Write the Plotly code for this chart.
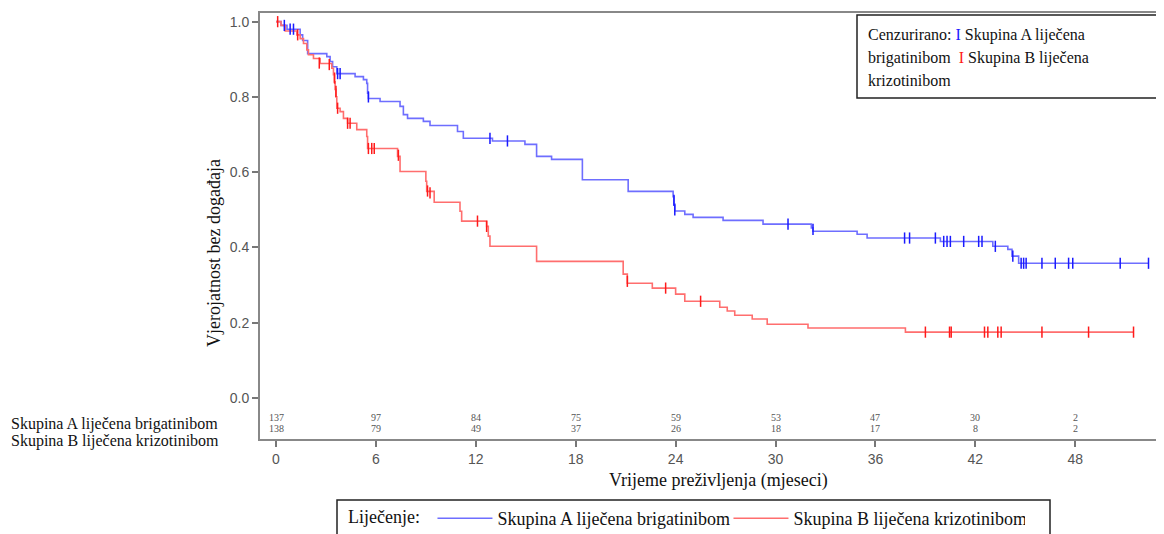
import plotly.graph_objects as go

# ---------------- data ----------------
# Kaplan-Meier step points (time in months, survival after step)
a_time = [0, 0.3, 0.66, 1.45, 1.6, 1.9, 3.05, 3.25, 3.4, 3.65, 4.75, 5.25, 5.45, 5.5, 5.55,
          6.25, 7.45, 7.65, 7.9, 8.85, 9.25, 10.9, 11.25, 13.0, 14.95, 15.65, 16.55, 18.4,
          21.15, 23.85, 23.9, 23.95, 24.55, 25.05, 26.85, 29.25, 32.15, 32.25, 34.9, 35.5,
          39.9, 43.05, 43.95, 44.2, 44.6, 52.4]
a_surv = [1.0, 0.99, 0.98, 0.965, 0.95, 0.915, 0.907, 0.894, 0.88, 0.862, 0.854, 0.846, 0.836, 0.81, 0.796,
          0.788, 0.775, 0.753, 0.743, 0.735, 0.724, 0.708, 0.69, 0.683, 0.674, 0.642, 0.634, 0.58,
          0.549, 0.535, 0.515, 0.497, 0.488, 0.48, 0.472, 0.462, 0.452, 0.443, 0.435, 0.425,
          0.416, 0.403, 0.395, 0.377, 0.358, 0.358]

b_time = [0, 0.3, 0.55, 1.25, 1.45, 1.65, 1.85, 1.95, 2.25, 2.65, 3.35, 3.45, 3.5, 3.55, 3.6,
          3.65, 3.85, 4.05, 4.3, 4.85, 5.45, 5.5, 7.3, 7.45, 9.0, 9.05, 9.5, 11.05, 11.15,
          12.65, 12.75, 12.85, 15.65, 20.85, 21.1, 22.6, 24.0, 24.55, 26.65, 27.1, 27.55,
          28.6, 29.5, 31.95, 37.8, 51.5]
b_surv = [1.0, 0.99, 0.975, 0.965, 0.955, 0.942, 0.925, 0.912, 0.902, 0.889, 0.876, 0.859, 0.84, 0.82, 0.80,
          0.77, 0.761, 0.743, 0.73, 0.713, 0.695, 0.663, 0.642, 0.602, 0.576, 0.549, 0.52, 0.496, 0.47,
          0.456, 0.43, 0.403, 0.363, 0.329, 0.305, 0.292, 0.276, 0.257, 0.241, 0.231, 0.22,
          0.21, 0.196, 0.186, 0.175, 0.175]

# censored observations
a_cens_t = [0.5, 0.85, 1.05, 3.7, 3.85, 5.55, 12.85, 13.9, 23.9, 23.95, 30.75, 32.25,
            37.75, 38.05, 39.6, 40.1, 40.3, 40.5, 41.3, 42.2, 42.4, 43.2, 44.25, 44.75,
            44.9, 45.05, 46.0, 46.8, 47.6, 47.85, 50.7, 52.4]
a_cens_s = [0.99, 0.98, 0.98, 0.862, 0.862, 0.80, 0.69, 0.683, 0.525, 0.50, 0.462, 0.448,
            0.425, 0.425, 0.425, 0.416, 0.416, 0.416, 0.416, 0.416, 0.416, 0.403, 0.377, 0.358,
            0.358, 0.358, 0.358, 0.358, 0.358, 0.358, 0.358, 0.358]
b_cens_t = [0.1, 1.3, 2.6, 3.2, 3.52, 3.6, 3.7, 4.3, 4.45, 5.55, 5.75, 5.9, 7.35, 9.1, 9.25,
            12.1, 12.65, 21.1, 23.4, 25.5, 39.0, 40.45, 40.55, 42.55, 42.75, 43.35, 43.55,
            46.0, 48.8, 51.5]
b_cens_s = [1.0, 0.965, 0.89, 0.886, 0.85, 0.815, 0.77, 0.73, 0.73, 0.663, 0.663, 0.663, 0.645,
            0.55, 0.545, 0.47, 0.456, 0.31, 0.292, 0.257, 0.175, 0.175, 0.175, 0.175, 0.175,
            0.175, 0.175, 0.175, 0.175, 0.175]

# number at risk
risk_times = [0, 6, 12, 18, 24, 30, 36, 42, 48]
risk_a = [137, 97, 84, 75, 59, 53, 47, 30, 2]
risk_b = [138, 79, 49, 37, 26, 18, 17, 8, 2]

x_ticks = [0, 6, 12, 18, 24, 30, 36, 42, 48]
y_ticks = [0.0, 0.2, 0.4, 0.6, 0.8, 1.0]

name_a = "Skupina A liječena brigatinibom"
name_b = "Skupina B liječena krizotinibom"

# ---------------- styling ----------------
OFF = 8                       # page body margin of the browser
W, H = 1164 - OFF, 534 - OFF
L, R, T, B = 260 - OFF, 0, 13 - OFF, 534 - 439
pw, ph = W - L - R, H - T - B

SERIF = "Liberation Serif"
SANS = "Liberation Sans"
line_a = "#6e6eff"
line_b = "#ff6e6e"
mark_a = "#1a1aff"
mark_b = "#ff1a1a"

fig = go.Figure()
fig.add_trace(go.Scatter(x=a_time, y=a_surv, mode="lines", line=dict(shape="hv", color=line_a, width=1.6),
                         name=name_a))
fig.add_trace(go.Scatter(x=b_time, y=b_surv, mode="lines", line=dict(shape="hv", color=line_b, width=1.6),
                         name=name_b))
fig.add_trace(go.Scatter(x=a_cens_t, y=a_cens_s, mode="markers", showlegend=False,
                         marker=dict(symbol="line-ns-open", size=8, color=mark_a,
                                     line=dict(color=mark_a, width=1.5))))
fig.add_trace(go.Scatter(x=b_cens_t, y=b_cens_s, mode="markers", showlegend=False,
                         marker=dict(symbol="line-ns-open", size=8, color=mark_b,
                                     line=dict(color=mark_b, width=1.5))))


def px_x(p):
    return (p - OFF - L) / pw


def px_y(p):
    return (H - B - (p - OFF)) / ph


ann = []
for t, na, nb in zip(risk_times, risk_a, risk_b):
    ann.append(dict(x=t, y=-0.052, xref="x", yref="y", text=str(na), showarrow=False,
                    font=dict(family=SERIF, size=10, color="#555")))
    ann.append(dict(x=t, y=-0.082, xref="x", yref="y", text=str(nb), showarrow=False,
                    font=dict(family=SERIF, size=10, color="#555")))

# row labels for at-risk table
ann.append(dict(x=px_x(9), y=px_y(424), xref="paper", yref="paper", xanchor="left", yanchor="middle",
                text=name_a, showarrow=False, font=dict(family=SERIF, size=16, color="#111")))
ann.append(dict(x=px_x(9), y=px_y(441), xref="paper", yref="paper", xanchor="left", yanchor="middle",
                text=name_b, showarrow=False, font=dict(family=SERIF, size=16, color="#111")))
# axis titles
ann.append(dict(x=px_x(214), y=px_y(253), xref="paper", yref="paper", xanchor="center", yanchor="middle",
                text="Vjerojatnost bez događaja", textangle=-90, showarrow=False,
                font=dict(family=SERIF, size=18, color="#111")))
ann.append(dict(x=px_x(718), y=px_y(480), xref="paper", yref="paper", xanchor="center", yanchor="middle",
                text="Vrijeme preživljenja (mjeseci)", showarrow=False,
                font=dict(family=SERIF, size=18, color="#111")))
# censor legend box text
cen_lines = [
    "Cenzurirano: <span style='color:#1a1aff'>I</span> Skupina A liječena",
    "brigatinibom  <span style='color:#ff1a1a'>I</span> Skupina B liječena",
    "krizotinibom",
]
for i, txt in enumerate(cen_lines):
    ann.append(dict(x=px_x(866), y=px_y(35 + i * 23), xref="paper", yref="paper", xanchor="left",
                    yanchor="middle", text=txt, showarrow=False,
                    font=dict(family=SERIF, size=16, color="#111")))

shapes = [
    dict(type="rect", xref="paper", yref="paper", x0=px_x(857), x1=px_x(1162), y0=px_y(15), y1=px_y(98),
         line=dict(color="#222", width=1.5), fillcolor="white", layer="below"),
    # frame of the treatment legend (extends past the bottom edge as in the original)
    dict(type="rect", xref="paper", yref="paper", x0=px_x(337), x1=px_x(1050), y0=px_y(500), y1=px_y(560),
         line=dict(color="#222", width=1.5), fillcolor="rgba(0,0,0,0)", layer="above"),
]

fig.update_layout(
    width=W, height=H,
    margin=dict(l=L, r=R, t=T, b=B, autoexpand=False),
    paper_bgcolor="white", plot_bgcolor="white",
    annotations=ann, shapes=shapes,
    legend=dict(orientation="h", x=px_x(337), y=px_y(500), xanchor="left", yanchor="top",
                borderwidth=0, bgcolor="rgba(0,0,0,0)",
                title=dict(text="\u00a0\u00a0Liječenje: ", side="left",
                           font=dict(family=SERIF, size=18, color="#111")),
                font=dict(family=SERIF, size=18, color="#111"), entrywidth=226,
                itemwidth=55),
    xaxis=dict(range=[-0.961, 53.33], tickvals=x_ticks, ticks="outside", ticklen=6, tickwidth=1.5,
               tickcolor="#777", showline=True, linecolor="#888", linewidth=2, mirror=True,
               showgrid=False, zeroline=False,
               tickfont=dict(family=SANS, size=14, color="#555")),
    yaxis=dict(range=[-0.109, 1.023], tickvals=y_ticks, tickformat=".1f", ticks="outside", ticklen=6,
               tickwidth=1.5, tickcolor="#777", showline=True, linecolor="#888", linewidth=2,
               showgrid=False, zeroline=False,
               tickfont=dict(family=SANS, size=14, color="#555")),
)

fig.write_html("out.html")
